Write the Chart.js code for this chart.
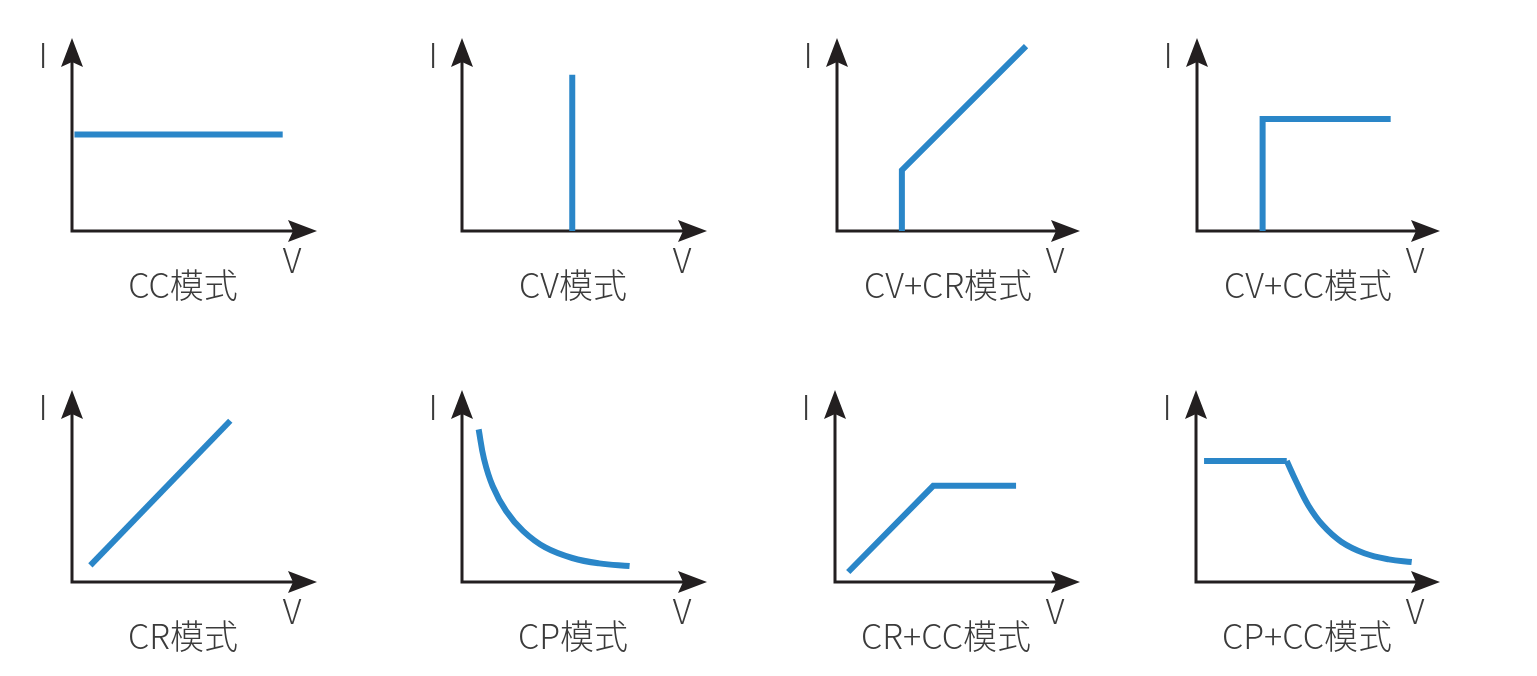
<!doctype html>
<html lang="zh"><head>
<meta charset="utf-8"/>
<title>电子负载工作模式</title>
<script src="https://cdn.jsdelivr.net/npm/chart.js@4.4.6/dist/chart.umd.min.js"></script>
<style>
  html,body{margin:0;padding:0;background:#fff}
  body{width:1537px;height:676px;position:relative;overflow:hidden}
  .panel{position:absolute}
</style></head>
<body>
<div id="app"></div>
<script>
// V-I curves of the 8 load modes. Both axes run 0..10, 10 = the arrow tip.
const ccCurve   = [{x:0.1,y:5.0},{x:8.6,y:5.0}];
const cvCurve   = [{x:4.5,y:0},{x:4.5,y:8.1}];
const cvcrCurve = [{x:2.67,y:0},{x:2.67,y:3.15},{x:7.78,y:9.58}];
const cvccCurve = [{x:2.7,y:0},{x:2.7,y:5.8},{x:7.97,y:5.8}];
const crCurve   = [{x:0.75,y:0.87},{x:6.46,y:8.4}];
const cpCurve   = [{x:0.68,y:7.95},{x:0.9,y:6.4},{x:1.25,y:5.0},{x:1.8,y:3.7},{x:2.5,y:2.65},
                   {x:3.4,y:1.8},{x:4.5,y:1.25},{x:5.6,y:0.97},{x:6.84,y:0.83}];
const crccCurve = [{x:0.54,y:0.52},{x:4.01,y:5.01},{x:7.39,y:5.01}];
const cpccFlat  = [{x:0.33,y:6.3},{x:3.72,y:6.3}];
const cpccCurve = [{x:3.72,y:6.3},{x:4.1,y:5.25},{x:4.6,y:4.0},{x:5.2,y:2.95},{x:5.95,y:2.1},
                   {x:6.9,y:1.5},{x:7.9,y:1.18},{x:8.84,y:1.04}];
const titles = ['CC模式','CV模式','CV+CR模式','CV+CC模式','CR模式','CP模式','CR+CC模式','CP+CC模式'];
const axisX = 'V', axisY = 'I';

const BLUE='#2a86c8', INK='#231f20', TEXT='#3b3b3b';
const FONT='300 34px "Noto Sans CJK SC","Noto Sans",sans-serif';
const PADL=45, PADT=5, PADR=8, PADB=80;

// page position of each panel: origin (ox,oy) and arrow tips (xt,yt)
const panels=[
  {ox:72,  oy:231, xt:317,  yt:38,  sets:[{d:ccCurve}]},
  {ox:462, oy:231, xt:707,  yt:38,  sets:[{d:cvCurve}]},
  {ox:837, oy:231, xt:1080, yt:38,  sets:[{d:cvcrCurve}]},
  {ox:1197,oy:231, xt:1440, yt:38,  sets:[{d:cvccCurve}]},
  {ox:72,  oy:582, xt:317,  yt:390, sets:[{d:crCurve}]},
  {ox:462, oy:582, xt:707,  yt:390, sets:[{d:cpCurve,smooth:true}]},
  {ox:835, oy:582, xt:1080, yt:390, sets:[{d:crccCurve}]},
  {ox:1196,oy:582, xt:1440, yt:390, sets:[{d:cpccFlat},{d:cpccCurve,smooth:true}]}
];

function arrow(ctx,x,y,dx,dy){ // tip at x,y; dx,dy points back along the shaft
  const L=29,W=11,N=5,px=-dy,py=dx;
  ctx.beginPath();
  ctx.moveTo(x,y);
  ctx.lineTo(x+dx*L+px*W,y+dy*L+py*W);
  ctx.lineTo(x+dx*(L-N),y+dy*(L-N));
  ctx.lineTo(x+dx*L-px*W,y+dy*L-py*W);
  ctx.closePath();ctx.fill();
}

const ivAxes={
  id:'ivAxes',
  beforeDatasetsDraw(chart){
    const {ctx,chartArea:{left,top,right,bottom}}=chart;
    ctx.save();
    ctx.strokeStyle=INK;ctx.fillStyle=INK;ctx.lineWidth=3;
    ctx.beginPath();ctx.moveTo(left,top+20);ctx.lineTo(left,bottom);ctx.lineTo(right-20,bottom);ctx.stroke();
    arrow(ctx,left,top,0,1);arrow(ctx,right,bottom,-1,0);
    ctx.restore();
  },
  afterDraw(chart,args,opts){
    const {ctx,chartArea:{left,top,right,bottom}}=chart;
    ctx.save();
    ctx.fillStyle=TEXT;ctx.font=FONT;ctx.textAlign='center';ctx.textBaseline='alphabetic';
    ctx.fillText(axisY,left-29,top+30);
    ctx.fillText(axisX,right-25,bottom+42);
    ctx.fillText(opts.title,left+111,bottom+67);
    ctx.restore();
  }
};

const app=document.getElementById('app');
panels.forEach((p,i)=>{
  const cv=document.createElement('canvas');
  cv.className='panel';
  cv.width=p.xt-p.ox+PADL+PADR; cv.height=p.oy-p.yt+PADT+PADB;
  cv.style.left=(p.ox-PADL)+'px'; cv.style.top=(p.yt-PADT)+'px';
  cv.style.width=cv.width+'px'; cv.style.height=cv.height+'px';
  app.appendChild(cv);
  new Chart(cv,{
    type:'scatter',
    data:{datasets:p.sets.map(s=>({data:s.d,showLine:true,borderColor:BLUE,borderWidth:6,pointRadius:0,
      tension:s.smooth?0.4:0,clip:false,borderJoinStyle:'miter',borderCapStyle:'butt'}))},
    options:{responsive:false,animation:false,events:[],devicePixelRatio:1,
      layout:{padding:{left:PADL,top:PADT,right:PADR,bottom:PADB}},
      plugins:{legend:{display:false},tooltip:{enabled:false},ivAxes:{title:titles[i]}},
      scales:{x:{type:'linear',min:0,max:10,display:false},y:{type:'linear',min:0,max:10,display:false}}},
    plugins:[ivAxes]
  });
});
</script>
</body></html>
